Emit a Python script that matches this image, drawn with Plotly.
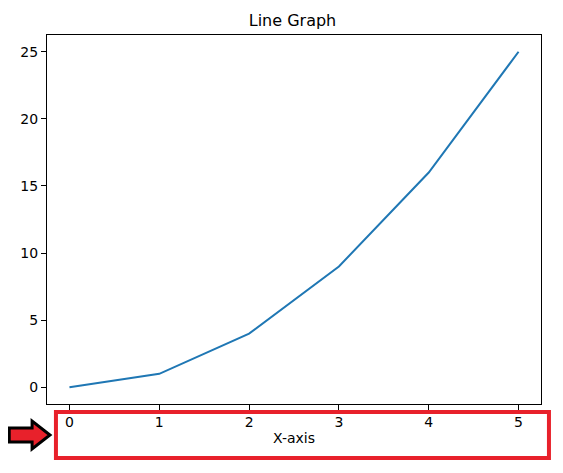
import plotly.graph_objects as go

x_vals = [0, 1, 2, 3, 4, 5]
y_vals = [0, 1, 4, 9, 16, 25]
x_ticks = [0, 1, 2, 3, 4, 5]
y_ticks = [0, 5, 10, 15, 20, 25]
title_text = "Line Graph"
x_label = "X-axis"

W, H = 563, 473
OFF = 8  # default page body margin
L, R, T, B = 44, 22, 35, 69
pw, ph = W - L - R, H - T - B
FW, FH = W - OFF, H - OFF

def px(xp):
    return (xp - L) / pw

def py(yp):
    return (H - B - yp) / ph

fig = go.Figure()
fig.add_trace(go.Scatter(x=x_vals, y=y_vals, mode="lines",
                         line=dict(color="#1f77b4", width=2), showlegend=False))

axis_common = dict(showgrid=False, zeroline=False, showline=True, linecolor="black",
                   linewidth=1, mirror=True, ticks="outside", ticklen=5, tickwidth=1,
                   tickcolor="black", tickfont=dict(family="DejaVu Sans", size=14, color="black"))
fig.update_xaxes(range=[-0.25, 5.25], tickvals=x_ticks,
                 title=dict(text=x_label, font=dict(family="DejaVu Sans", size=14, color="black"), standoff=4),
                 **axis_common)
fig.update_yaxes(range=[-1.25, 26.25], tickvals=y_ticks, **axis_common)

# red highlight rectangle
fig.add_shape(type="rect", xref="paper", yref="paper",
              x0=px(53), x1=px(549), y0=py(412), y1=py(458),
              line=dict(color="#e8212b", width=4), fillcolor="rgba(0,0,0,0)")

# arrow pointing at the rectangle
pts = [(6, 428), (29, 428), (29, 421), (47, 435), (29, 449), (29, 442), (6, 442)]
path = "M " + " L ".join(f"{px(a):.5f},{py(b):.5f}" for a, b in pts) + " Z"
fig.add_shape(type="path", xref="paper", yref="paper", path=path,
              fillcolor="#e8212b", line=dict(color="black", width=3))

fig.update_layout(
    width=FW, height=FH,
    margin=dict(l=L - OFF, r=0, t=T - OFF, b=0, pad=0),
    paper_bgcolor="white", plot_bgcolor="white",
    title=dict(text=title_text, x=(L - OFF + pw / 2) / FW, xanchor="center",
               y=1 - (20 - OFF) / FH, yanchor="middle",
               font=dict(family="DejaVu Sans", size=16, color="black")),
)
# keep plot area size exact
fig.update_layout(margin=dict(r=FW - (L - OFF) - pw, b=FH - (T - OFF) - ph))

fig.write_html("out.html")
